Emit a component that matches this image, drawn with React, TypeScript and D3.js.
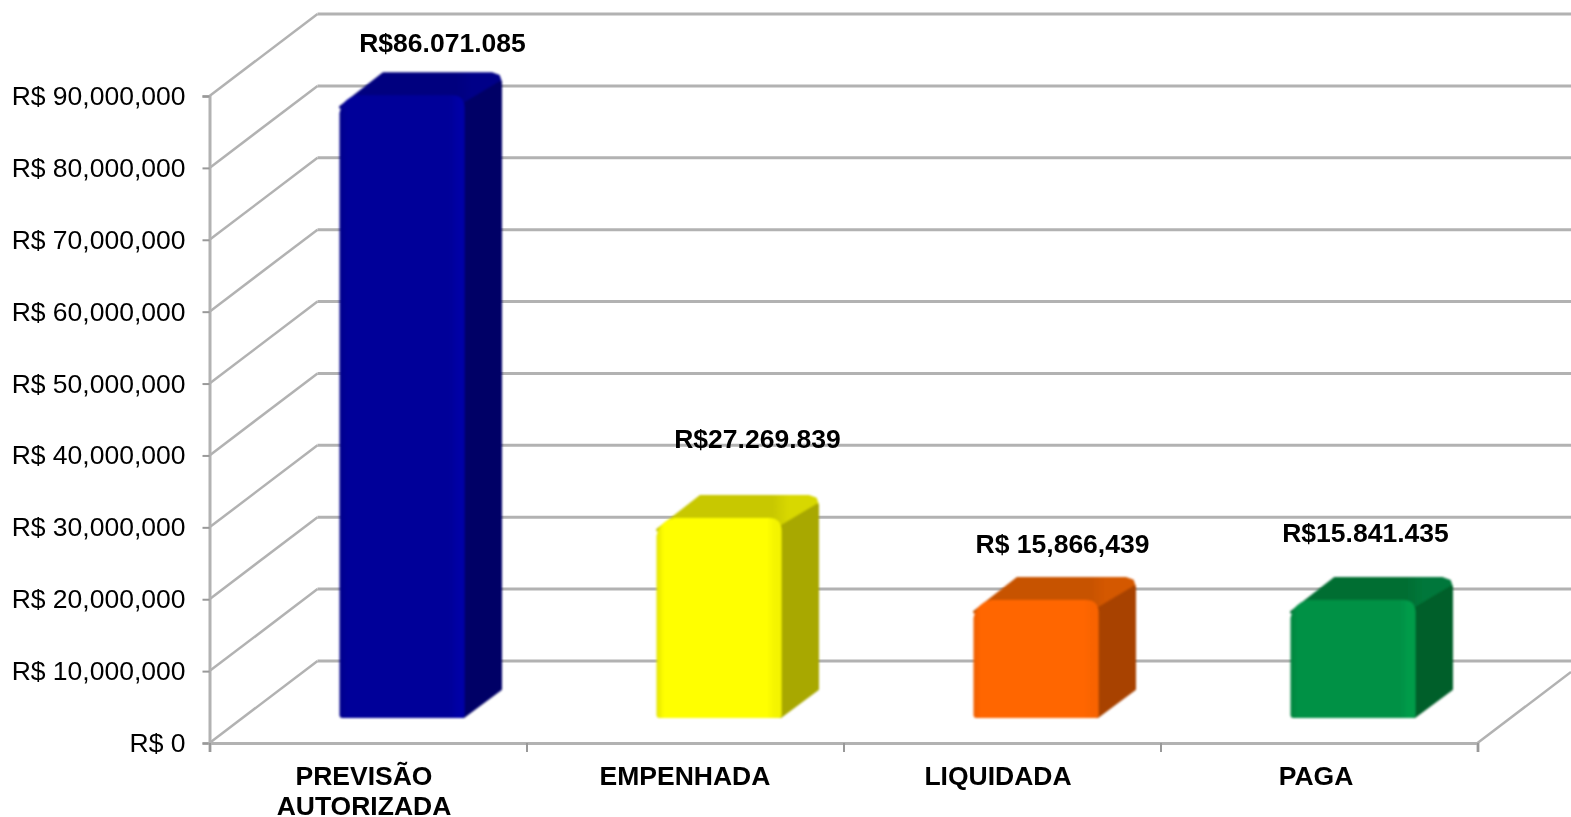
import { useEffect, useRef } from 'react';
import * as d3 from 'd3';

const categories = [['PREVISÃO', 'AUTORIZADA'], ['EMPENHADA'], ['LIQUIDADA'], ['PAGA']];
const values = [86071085, 27269839, 15866439, 15841435];
const valueLabels = ['R$86.071.085', 'R$27.269.839', 'R$ 15,866,439', 'R$15.841.435'];
const yTicks = [0, 10e6, 20e6, 30e6, 40e6, 50e6, 60e6, 70e6, 80e6, 90e6];
const frontColors = ['#000099', '#ffff00', '#ff6600', '#009145'];
const edgeColors = ['#0606a6', '#f4f400', '#f96400', '#009c4a'];
const leftColors = ['#00008a', '#e4e400', '#f05f00', '#00853f'];
const topColors = ['#00007f', '#c8c800', '#c75200', '#006e33'];
const topLightColors = ['#000088', '#d8d800', '#d45800', '#00773a'];
const sideColors = ['#000066', '#a8a800', '#a84300', '#005e2a'];

// label offsets from each bar
const labelNudge = [[103, -47], [101, -74], [89, -51], [75, -62]];
const categoryNudge = [-4, 0, -4, -3];

const width = 1571;
const height = 817;
const gray = '#b2b2b2';
const font = '"Liberation Sans", Arial, sans-serif';

const wallDx = 108;
const wallDy = 82;
const barOffset = 130;
const barWidth = 125;
const barBaseShift = 25; // bars stand a bit behind the front edge of the floor

export default function App() {
    const root = useRef<SVGSVGElement>(null);

    useEffect(() => {
        const svg = d3.select(root.current);
        svg.selectAll('*').remove();

        const y = d3.scaleLinear().domain([0, 90e6]).range([743, 96]);
        const x = d3.scaleLinear().domain([0, 4]).range([209.5, 1477.5]);

        const defs = svg.append('defs');
        defs.append('filter').attr('id', 'soft').append('feGaussianBlur').attr('stdDeviation', 1);
        defs.append('filter').attr('id', 'softText').append('feGaussianBlur').attr('stdDeviation', 0.35);

        values.forEach((_, i) => {
            const grad = defs.append('linearGradient').attr('id', `front${i}`);
            const stops: [number, string][] = [
                [0, leftColors[i]],
                [0.06, frontColors[i]],
                [0.88, frontColors[i]],
                [0.95, edgeColors[i]],
                [1, edgeColors[i]],
            ];
            stops.forEach(([o, c]) => grad.append('stop').attr('offset', o).attr('stop-color', c));

            const topGrad = defs.append('linearGradient').attr('id', `top${i}`);
            const topStops: [number, string][] = [
                [0, topColors[i]],
                [0.72, topColors[i]],
                [0.82, topLightColors[i]],
                [1, topLightColors[i]],
            ];
            topStops.forEach(([o, c]) => topGrad.append('stop').attr('offset', o).attr('stop-color', c));
        });

        // back wall and side wall
        const grid = svg.append('g').attr('fill', 'none').attr('stroke', gray);
        grid.selectAll('line.back')
            .data(yTicks)
            .join('line')
            .attr('class', 'back')
            .attr('x1', x(0) + wallDx)
            .attr('x2', width)
            .attr('y1', (d) => y(d) - wallDy)
            .attr('y2', (d) => y(d) - wallDy)
            .attr('stroke-width', 3);
        grid.selectAll('line.side')
            .data(yTicks)
            .join('line')
            .attr('class', 'side')
            .attr('x1', x(0))
            .attr('x2', x(0) + wallDx)
            .attr('y1', (d) => y(d))
            .attr('y2', (d) => y(d) - wallDy)
            .attr('stroke-width', 2.5);
        grid.append('line')
            .attr('x1', x(4))
            .attr('x2', width)
            .attr('y1', y(0))
            .attr('y2', y(0) - ((width - x(4)) * wallDy) / wallDx)
            .attr('stroke-width', 2.5);

        // axes
        const yAxis = svg
            .append('g')
            .attr('transform', `translate(${x(0)},0)`)
            .call(
                d3
                    .axisLeft(y)
                    .tickValues(yTicks)
                    .tickSize(7)
                    .tickPadding(17)
                    .tickFormat((d) => `R$ ${d3.format(',')(+d)}`)
            );
        const xAxis = svg
            .append('g')
            .attr('transform', `translate(0,${y(0)})`)
            .call(d3.axisBottom(x).tickValues([0, 1, 2, 3, 4]).tickSize(9).tickSizeOuter(9).tickFormat(() => ''));
        [yAxis, xAxis].forEach((a) => {
            a.selectAll('path').attr('stroke', gray).attr('stroke-width', 3);
            a.selectAll('line').attr('stroke', '#999').attr('stroke-width', 2);
        });
        yAxis.selectAll('text')
            .attr('font-family', font)
            .attr('font-size', 26.5)
            .attr('fill', '#000')
            .attr('filter', 'url(#softText)');

        // 3D bars
        const scale = y(0) - y(1e6);
        const bars = svg.append('g').attr('filter', 'url(#soft)');
        values.forEach((v, i) => {
            const left = x(i) + barOffset;
            const right = left + barWidth;
            const base = y(0) - barBaseShift;
            const top = base - (v / 1e6) * scale;
            const backRight = right + 36;

            const poly = (pts: [number, number][], fill: string, stroke: string) =>
                bars
                    .append('path')
                    .attr('d', d3.line()(pts) + 'Z')
                    .attr('fill', fill)
                    .attr('stroke', stroke)
                    .attr('stroke-width', 3)
                    .attr('stroke-linejoin', 'round');

            poly(
                [
                    [left + 1, top + 8],
                    [left + 44, top - 25.5],
                    [backRight - 9, top - 25.5],
                    [backRight - 2, top - 23],
                    [backRight, top - 17],
                    [right, top + 6],
                ],
                `url(#top${i})`,
                `url(#top${i})`
            );
            poly(
                [
                    [right - 6, top + 8],
                    [backRight, top - 17],
                    [backRight, base - 29],
                    [right - 1, base - 1.5],
                    [right - 6, base - 1.5],
                ],
                sideColors[i],
                sideColors[i]
            );

            // front face: chamfered top-left under the top face, small radius at the floor
            const fTop = top - 4;
            const rTop = 13;
            const rBase = 3;
            const front = d3.path();
            front.moveTo(left, fTop + 18);
            front.quadraticCurveTo(left + 3, fTop + 3, left + 18, fTop);
            front.lineTo(right - rTop, fTop);
            front.quadraticCurveTo(right, fTop, right, fTop + rTop);
            front.lineTo(right, base - rBase);
            front.quadraticCurveTo(right, base, right - rBase, base);
            front.lineTo(left + rBase, base);
            front.quadraticCurveTo(left, base, left, base - rBase);
            front.closePath();
            bars.append('path').attr('d', front.toString()).attr('fill', `url(#front${i})`);

            // value label
            svg.append('text')
                .attr('x', left + labelNudge[i][0])
                .attr('y', top + labelNudge[i][1])
                .attr('text-anchor', 'middle')
                .attr('font-family', font)
                .attr('font-weight', 'bold')
                .attr('font-size', 26.5)
                .attr('fill', '#000')
                .attr('filter', 'url(#softText)')
                .text(valueLabels[i]);
        });

        // category labels
        categories.forEach((lines, i) => {
            lines.forEach((line, j) => {
                svg.append('text')
                    .attr('x', (x(i) + x(i + 1)) / 2 + categoryNudge[i])
                    .attr('y', 784.5 + j * 30.5)
                    .attr('text-anchor', 'middle')
                    .attr('font-family', font)
                    .attr('font-weight', 'bold')
                    .attr('font-size', 26.5)
                    .attr('fill', '#000')
                    .attr('filter', 'url(#softText)')
                    .text(line);
            });
        });
    }, []);

    return (
        <svg
            ref={root}
            width={width}
            height={height}
            style={{ position: 'absolute', left: 0, top: 0, display: 'block', background: '#fff' }}
        />
    );
}
